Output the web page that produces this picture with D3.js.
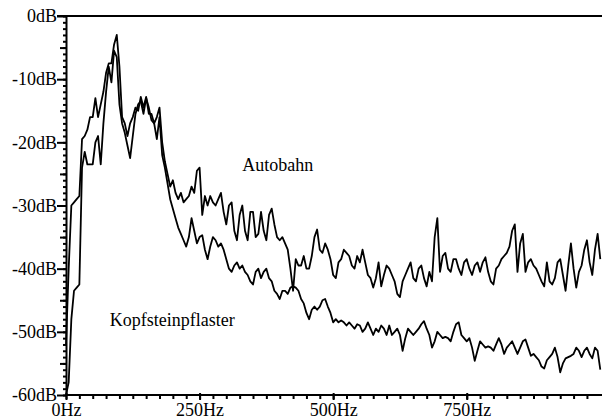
<!DOCTYPE html>
<html>
<head>
<meta charset="utf-8">
<script src="https://cdn.jsdelivr.net/npm/d3@7"></script>
<style>
  html, body { margin: 0; padding: 0; background: #fff; }
  svg { display: block; }
</style>
</head>
<body>
<svg id="chart" width="602" height="419" font-family="Liberation Serif, Times New Roman, serif"></svg>
<script>
// Spectra sampled on a 5 Hz grid, 0 Hz .. 1000 Hz (level in dB)
const freqStepHz = 5;

const autobahnDb = [
  -52, -40, -30, -29.5, -29, -28.5, -19.5, -19, -18, -16,
  -16, -13, -16, -14, -12, -9, -7.5, -7.5, -4.5, -3,
  -8, -16, -17, -19, -17, -16, -14.5, -15, -12.8, -14.5,
  -12.8, -15.5, -15.5, -17, -16, -14.5, -20, -23, -25, -27,
  -26, -28, -29, -28, -29.5, -29, -28.5, -27, -28, -24.5,
  -24, -31.5, -28.5, -30, -28.5, -29.5, -30, -29, -28, -31,
  -33, -30, -29.5, -34, -35.5, -31.5, -30, -34, -35.5, -31,
  -31, -35, -34.5, -31, -34, -35.5, -31.5, -30.5, -33, -35,
  -35.5, -35, -36, -37, -40, -43.5, -38.5, -39.5, -39.5, -38,
  -40, -40, -38, -35, -33.8, -37, -37.5, -36, -37, -38.5,
  -41, -41.5, -39, -38.5, -37, -37.5, -38, -39.5, -40, -38,
  -39, -37, -39, -41, -41.5, -43, -41.5, -39, -42.8, -41,
  -39.5, -40, -41, -42, -44, -44.5, -42, -41, -40, -39,
  -41.5, -42, -40, -39.5, -41.5, -42.8, -40.5, -42, -35, -32,
  -40.5, -38, -37.5, -40, -40.5, -38.5, -38.5, -40, -41, -39,
  -38.5, -40, -41, -39.5, -39, -40.5, -39, -38.2, -40.5, -42,
  -42.5, -40, -39.5, -38.5, -38, -37.5, -36.5, -34, -33, -40.5,
  -36, -34.5, -40.5, -39, -38.5, -39.5, -40, -41, -42, -42.8,
  -39, -42, -42.5, -41.5, -39, -38.5, -41, -43.5, -39.5, -36,
  -40, -43, -40.5, -39.5, -37, -35.5, -39, -41, -37, -34.5,
  -38.5
];

const kopfsteinpflasterDb = [
  -60, -58, -48, -43.5, -43, -42.5, -24, -21.5, -23.5, -23.5,
  -23.5, -20, -19, -23.5, -17, -12, -8, -10.5, -5.5, -6.5,
  -14, -17, -18.5, -20.5, -22.5, -19, -15.5, -14, -13.5, -15.5,
  -13, -14.5, -16.5, -17, -19.5, -16, -22, -24, -26.5, -29,
  -30.5, -32, -33.5, -34.5, -35.5, -36.5, -35, -32, -34, -36,
  -35, -34.7, -37, -38.5, -36.5, -35, -35.5, -36.5, -36, -37,
  -38.5, -40, -40.5, -39.5, -39, -40, -39.5, -40.5, -41, -42,
  -42.5, -40.5, -40, -41.5, -40.5, -40, -41.5, -42, -43.5, -44,
  -44.8, -43.5, -43.5, -44, -43, -42.8, -43, -43.5, -44.8, -45.5,
  -47, -48, -46.5, -46, -46.5, -46, -45, -44.8, -46, -47,
  -48.5, -48, -48.5, -48.2, -48.5, -49, -48.5, -49, -49.5, -48.8,
  -49, -50, -49.5, -48.5, -49.5, -50.5, -49.5, -50, -49, -49.5,
  -50.5, -49, -50.5, -50, -49.5, -50.5, -53, -51, -49.5, -50,
  -50.5, -50, -49.5, -48.8, -48.3, -49.5, -50.5, -52.5, -51.5, -50,
  -50.5, -51, -50.8, -51, -51.5, -50, -48.8, -48.5, -50.5, -51,
  -51.5, -51, -52.5, -54.6, -53, -51.5, -52, -52.5, -52.3, -52.5,
  -53, -52, -51, -52, -53.5, -52.5, -52, -51.5, -52.5, -53.5,
  -52.5, -51.5, -51.2, -52.5, -53.8, -53.5, -54, -54.5, -55.5, -55.8,
  -54.5, -54, -53.5, -52.5, -54, -56.4, -55, -54.2, -54, -53.8,
  -53.5, -52.5, -53, -54, -53, -52.5, -53.5, -54.2, -52.5, -53,
  -56
];

// Axis ticks and their labels
const yMajorDb = [0, -10, -20, -30, -40, -50, -60];
const yMajorLabels = ["0dB", "-10dB", "-20dB", "-30dB", "-40dB", "-50dB", "-60dB"];
const xMajorHz = [0, 250, 500, 750];
const xMajorLabels = ["0Hz", "250Hz", "500Hz", "750Hz"];

// Series names, with the spot (Hz, dB) where each name is written
const seriesNames = ["Autobahn", "Kopfsteinpflaster"];
const seriesNameAt = [[330, -24.5], [82, -49.0]];

const serif = "Liberation Serif, Times New Roman, serif";
const fontSize = 18;

const svg = d3.select("#chart");
const W = 602, H = 419;

const x = d3.scaleLinear().domain([0, 1000]).range([66, 600.3]);
const y = d3.scaleLinear().domain([0, -60]).range([16, 395]);

// Top border along 0 dB
svg.append("line")
  .attr("x1", 57).attr("x2", W)
  .attr("y1", y(0)).attr("y2", y(0))
  .attr("stroke", "#000").attr("stroke-width", 2);

function styleAxis(g) {
  g.attr("font-family", serif).attr("font-size", fontSize);
  g.selectAll("path.domain").attr("stroke", "#000").attr("stroke-width", 2);
  g.selectAll(".tick line").attr("stroke", "#000").attr("stroke-width", 2);
  g.selectAll(".tick text").attr("fill", "#000");
}

// Y axis: 1 dB minor ticks, 5 dB medium ticks, 10 dB labelled ticks
const yMinor = svg.append("g").attr("transform", `translate(${x(0)},0)`)
  .call(d3.axisLeft(y).tickValues(d3.range(-60, 1, 1)).tickSize(3).tickSizeOuter(0).tickFormat(""));
styleAxis(yMinor);
const yMid = svg.append("g").attr("transform", `translate(${x(0)},0)`)
  .call(d3.axisLeft(y).tickValues([-5, -15, -25, -35, -45, -55]).tickSize(6).tickSizeOuter(0).tickFormat(""));
styleAxis(yMid);
yMid.select("path.domain").remove();
const yMajor = svg.append("g").attr("transform", `translate(${x(0)},0)`)
  .call(d3.axisLeft(y).tickValues(yMajorDb).tickSize(9).tickSizeOuter(0)
    .tickFormat((d, i) => yMajorLabels[i]));
styleAxis(yMajor);
yMajor.select("path.domain").remove();
yMajor.selectAll(".tick text").attr("x", -9).attr("dy", "0.32em");

// X axis: 25 Hz minor ticks, 250 Hz labelled ticks
const xMinor = svg.append("g").attr("transform", `translate(0,${y(-60)})`)
  .call(d3.axisBottom(x).tickValues(d3.range(0, 1000, 25)).tickSize(4).tickSizeOuter(0).tickFormat(""));
styleAxis(xMinor);
xMinor.select("path.domain").attr("d", `M${x(0)},0H${W}`);
const xMajor = svg.append("g").attr("transform", `translate(0,${y(-60)})`)
  .call(d3.axisBottom(x).tickValues(xMajorHz).tickSize(5).tickSizeOuter(0)
    .tickFormat((d, i) => xMajorLabels[i]));
styleAxis(xMajor);
xMajor.select("path.domain").remove();
xMajor.selectAll(".tick line").attr("y1", -2);
xMajor.selectAll(".tick text").attr("y", 8).attr("dy", "0.71em");

// Spectrum lines
const line = d3.line()
  .x((d, i) => x(i * freqStepHz))
  .y(d => y(d));

[autobahnDb, kopfsteinpflasterDb].forEach(series => {
  svg.append("path")
    .datum(series)
    .attr("d", line)
    .attr("fill", "none")
    .attr("stroke", "#000")
    .attr("stroke-width", 1.8)
    .attr("stroke-linejoin", "round");
});

// Series names
seriesNames.forEach((name, i) => {
  svg.append("text")
    .attr("x", x(seriesNameAt[i][0]))
    .attr("y", y(seriesNameAt[i][1]))
    .attr("font-family", serif)
    .attr("font-size", fontSize)
    .attr("fill", "#000")
    .text(name);
});
</script>
</body>
</html>
